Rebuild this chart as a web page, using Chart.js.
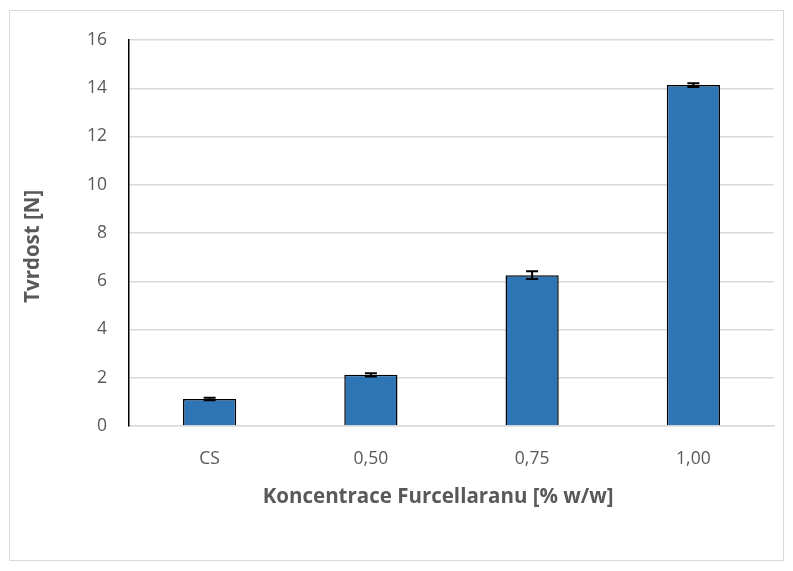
<!DOCTYPE html>
<html>
<head>
<meta charset="utf-8">
<script src="https://cdn.jsdelivr.net/npm/chart.js@4.4.0/dist/chart.umd.min.js"></script>
<style>
  html, body { margin: 0; padding: 0; background: #fff; }
  #wrap { width: 793px; height: 571px; position: relative; }
</style>
</head>
<body>
<div id="wrap"><canvas id="myChart" width="793" height="571"></canvas></div>
<script>
var categories = ['CS', '0,50', '0,75', '1,00'];
var hardness = [1.12, 2.12, 6.25, 14.13];
var errors = [0.05, 0.07, 0.16, 0.08];
var yTicks = [0, 2, 4, 6, 8, 10, 12, 14, 16];

var grey = '#595959';
// titles sit a bit off-centre in the original, padded with spaces
var xTitle = 'Koncentrace Furcellaranu [% w/w]' + '\u00a0\u00a0\u00a0\u00a0\u00a0';
var yTitle = 'Tvrdost [N]' + '\u00a0\u00a0\u00a0\u00a0\u00a0';

// error bars drawn through the y scale
var errorBars = {
    id: 'errorBars',
    afterDatasetsDraw: function (chart) {
        var c = chart.ctx;
        var y = chart.scales.y;
        var meta = chart.getDatasetMeta(0);
        c.save();
        c.strokeStyle = '#000';
        c.lineWidth = 2;
        meta.data.forEach(function (bar, i) {
            var top = y.getPixelForValue(hardness[i] + errors[i]);
            var bot = y.getPixelForValue(hardness[i] - errors[i]);
            c.beginPath();
            c.moveTo(bar.x, top); c.lineTo(bar.x, bot);
            c.moveTo(bar.x - 6, top); c.lineTo(bar.x + 6, top);
            c.moveTo(bar.x - 6, bot); c.lineTo(bar.x + 6, bot);
            c.stroke();
        });
        c.restore();
    }
};

var frame = {
    id: 'frame',
    beforeDraw: function (chart) {
        var c = chart.ctx;
        c.save();
        c.fillStyle = '#fff';
        c.fillRect(0, 0, chart.width, chart.height);
        c.strokeStyle = '#d9d9d9';
        c.lineWidth = 1;
        c.strokeRect(9.5, 10.5, 774, 550);
        c.restore();
    }
};

var ctx = document.getElementById('myChart').getContext('2d');
var chart = new Chart(ctx, {
    type: 'bar',
    data: {
        labels: categories,
        datasets: [{
            label: 'Tvrdost',
            data: hardness,
            backgroundColor: '#2e75b6',
            borderColor: '#000',
            borderWidth: 1.5,
            categoryPercentage: 1,
            barPercentage: 0.33
        }]
    },
    options: {
        responsive: false,
        animation: false,
        layout: { padding: { left: 21, right: 19, top: 40, bottom: 62 } },
        plugins: {
            legend: { display: false },
            tooltip: { enabled: false }
        },
        scales: {
            x: {
                grid: { display: false, drawTicks: false },
                border: { color: '#d9d9d9', width: 1.5 },
                ticks: { color: grey, padding: 23, font: { family: 'Open Sans', size: 17.5 } },
                title: {
                    display: true,
                    text: xTitle,
                    color: grey,
                    padding: 0,
                    font: { family: 'Open Sans', size: 20.5, weight: 'bold', lineHeight: 1.2 }
                },
                afterFit: function (s) { s.height = 83; }
            },
            y: {
                min: 0,
                max: 16,
                afterBuildTicks: function (s) {
                    s.ticks = yTicks.map(function (v) { return { value: v }; });
                },
                grid: { color: '#d9d9d9', lineWidth: 1.5, drawTicks: false },
                border: { color: '#000', width: 1.5 },
                ticks: { color: grey, padding: 22, font: { family: 'Open Sans', size: 17.5 } },
                title: {
                    display: true,
                    text: yTitle,
                    color: grey,
                    padding: 0,
                    font: { family: 'Open Sans', size: 20.5, weight: 'bold', lineHeight: 1.2 }
                },
                afterFit: function (s) { s.width = 108; }
            }
        }
    },
    plugins: [frame, errorBars]
});
</script>
</body>
</html>
